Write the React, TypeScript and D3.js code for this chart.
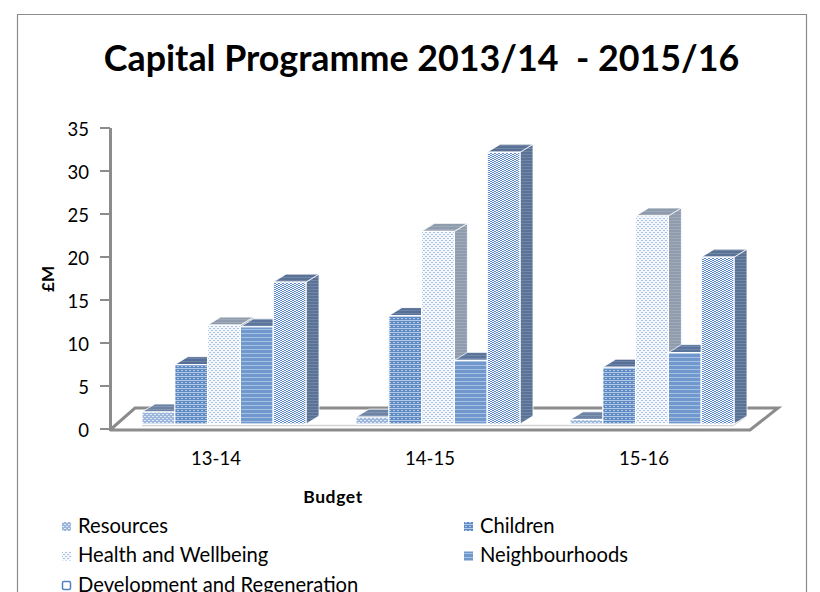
import React from "react";
import * as d3 from "d3";

const categories = ["13-14", "14-15", "15-16"];
const seriesNames = ["Resources", "Children", "Health and Wellbeing", "Neighbourhoods", "Development and Regeneration"];
const resources = [1.4, 0.8, 0.5];
const children = [6.9, 12.6, 6.6];
const health = [11.5, 22.4, 24.2];
const neighbourhoods = [11.3, 7.4, 8.3];
const development = [16.5, 31.6, 19.4];
const seriesValues = [resources, children, health, neighbourhoods, development];
const yTicks = [0, 5, 10, 15, 20, 25, 30, 35];

const FONT = "Lato, Carlito, 'Open Sans', sans-serif";
const GRAY = "#8c8c8c";
const DX = 13;
const DY = 8;

// Axis scale (wall) and bar scale (front plane, lifted by perspective).
const yAxis = d3.scaleLinear().domain([0, 35]).range([429, 128]);
const yBar = d3.scaleLinear().domain([0, 35]).range([424, 123]);
const x = d3.scaleBand().domain(categories).range([110, 752]).paddingInner(0).paddingOuter(0);
const inner = d3.scaleBand().domain(seriesNames).range([32, 196]);

type Dither = { base: string; dot: string; kind: "check" | "stripe" | "light" | "band" | "fine" };
const dithers: Dither[] = [
  { base: "#9db7dc", dot: "#dfe8f5", kind: "check" },
  { base: "#5f8ac4", dot: "#b4cbe8", kind: "stripe" },
  { base: "#f4f7fc", dot: "#a9c2e4", kind: "light" },
  { base: "#7098cd", dot: "#a5c0e3", kind: "band" },
  { base: "#ffffff", dot: "#3f75bd", kind: "fine" },
];
const shades = ["#6d84a4", "#566f97", "#8f9cae", "#5a749c", "#5b7297"];

function Tile({ id, d }: { id: string; d: Dither }) {
  const cells: [number, number, number, number][] =
    d.kind === "check"
      ? [[0, 0, 2, 1], [2, 2, 2, 1]]
      : d.kind === "stripe"
      ? [[0, 0, 4, 1], [1, 2, 2, 1]]
      : d.kind === "light"
      ? [[1, 0, 2, 1], [0, 2, 1, 1], [3, 2, 1, 1]]
      : d.kind === "band"
      ? [[0, 1, 4, 1]]
      : [[0, 0, 2, 1], [2, 1, 2, 1], [0, 2, 2, 1], [2, 3, 2, 1]];
  return (
    <pattern id={id} width={4} height={4} patternUnits="userSpaceOnUse">
      <rect width={4} height={4} fill={d.base} />
      {cells.map((c, i) => (
        <rect key={i} x={c[0]} y={c[1]} width={c[2]} height={c[3]} fill={d.dot} opacity={d.kind === "fine" ? 0.85 : 1} />
      ))}
    </pattern>
  );
}

function ShadeTile({ id, color }: { id: string; color: string }) {
  return (
    <pattern id={id} width={3} height={3} patternUnits="userSpaceOnUse">
      <rect width={3} height={3} fill={color} />
      <rect y={1} width={3} height={1} fill="#ffffff" opacity={0.14} />
    </pattern>
  );
}

export default function App() {
  const w = inner.bandwidth();
  const floor = d3.line()([[110, 430], [750, 430], [778, 408], [135, 408], [110, 430]]) as string;
  return (
    <svg width={820} height={592} style={{ position: "absolute", left: 0, top: 0, background: "#fff" }} fontFamily={FONT}>
      <defs>
        {dithers.map((d, i) => <Tile key={i} id={`front${i}`} d={d} />)}
        {shades.map((c, i) => <ShadeTile key={i} id={`shade${i}`} color={c} />)}
      </defs>
      <path d="M17.5 592V14.5H806.5V592" fill="none" stroke={GRAY} strokeWidth={1.2} />
      <text x={421.5} y={71} textAnchor="middle" fontSize={35.8} fontWeight={700} fill="#000" xmlSpace="preserve">
        Capital Programme 2013/14  - 2015/16
      </text>

      <path d={floor} fill="#fff" stroke={GRAY} strokeWidth={3} strokeLinejoin="miter" />
      <line x1={110.5} x2={110.5} y1={yAxis(35)} y2={431} stroke={GRAY} strokeWidth={3} />
      {yTicks.map((t) => (
        <g key={t}>
          <line x1={100} x2={110} y1={yAxis(t)} y2={yAxis(t)} stroke={GRAY} strokeWidth={2} />
          <text x={89} y={yAxis(t) + 7.5} textAnchor="end" fontSize={18.5} fill="#000">{t}</text>
        </g>
      ))}
      <text transform="translate(54,279) rotate(-90)" textAnchor="middle" fontSize={17} fontWeight={700}>£M</text>

      <path d="M142 425.5H733l13-9" fill="none" stroke="#d4d4d4" strokeWidth={1.5} />
      {categories.map((c, ci) => (
        <g key={c}>
          {seriesNames.map((s, si) => {
            const x0 = (x(c) as number) + (inner(s) as number);
            const x1 = x0 + w;
            const y0 = yBar(0);
            const yt = yBar(seriesValues[si][ci]);
            return (
              <g key={s}>
                <path d={`M${x1} ${y0}L${x1 + DX} ${y0 - DY}V${yt - DY}L${x1} ${yt}Z`} fill={`url(#shade${si})`} stroke="#fff" strokeWidth={0.8} />
                <path d={`M${x0} ${yt}L${x0 + DX} ${yt - DY}H${x1 + DX}L${x1} ${yt}Z`} fill={`url(#shade${si})`} stroke="#fff" strokeWidth={0.8} />
                <rect x={x0} y={yt} width={w} height={y0 - yt} fill={`url(#front${si})`} stroke="#fff" strokeWidth={1.2} />
              </g>
            );
          })}
          <text x={(x(c) as number) + 106} y={465} textAnchor="middle" fontSize={18.5}>{c}</text>
        </g>
      ))}

      <text x={333} y={503} textAnchor="middle" fontSize={17.5} fontWeight={700} letterSpacing={0.6}>Budget</text>

      {seriesNames.map((s, i) => {
        const lx = i % 2 === 0 ? 62 : 464;
        const ly = 526 + Math.floor(i / 2) * 29.5;
        return (
          <g key={s}>
            {i === 4 ? (
              <rect x={lx + 0.5} y={ly - 3.5} width={8} height={8} rx={1.5} fill="#fff" stroke="#4f81c4" strokeWidth={1.5} />
            ) : (
              <rect x={lx} y={ly - 4} width={9} height={9} fill={`url(#front${i})`} />
            )}
            <text x={lx + 16} y={ly + 6.5} fontSize={20.2} fill="#000">{s}</text>
          </g>
        );
      })}
    </svg>
  );
}
